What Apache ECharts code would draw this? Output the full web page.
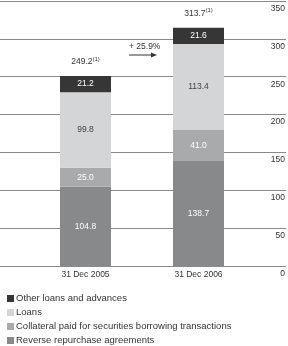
<!DOCTYPE html>
<html><head><meta charset="utf-8">
<script src="https://cdn.jsdelivr.net/npm/echarts@6/dist/echarts.min.js"></script>
<style>html,body{margin:0;padding:0;background:#fff}#c{width:288px;height:346px}</style>
</head><body><div id="c"></div>
<script>
const categories = ['31 Dec 2005', '31 Dec 2006'];
const reverseRepo = [104.8, 138.7];
const collateral = [25.0, 41.0];
const loans = [99.8, 113.4];
const otherLoans = [21.2, 21.6];
const totals = ['249.2', '313.7'];
const growthText = '+ 25.9%';
const yTicks = [0, 50, 100, 150, 200, 250, 300, 350];

const FONT = '"Liberation Sans Narrow", "Liberation Sans", sans-serif';
const TXT = '#333';
const chart = echarts.init(document.getElementById('c'), null, {renderer: 'canvas'});

function seg(name, data, color, labelColor) {
  return {
    name, type: 'bar', stack: 's', xAxisIndex: 1, yAxisIndex: 1, data,
    barWidth: 51, itemStyle: {color},
    label: {show: true, position: 'inside', color: labelColor, fontFamily: FONT, fontSize: 8.5,
      formatter: p => p.value.toFixed(1)}
  };
}

chart.setOption({
  animation: false,
  textStyle: {fontFamily: FONT},
  grid: [
    {left: 0, right: 0, top: 1, bottom: 80},
    {left: 29, right: 33, top: 1, bottom: 80}
  ],
  xAxis: [
    {gridIndex: 0, type: 'category', data: categories, show: false},
    {gridIndex: 1, type: 'category', data: categories,
      axisLine: {show: false}, axisTick: {show: false},
      axisLabel: {color: TXT, fontSize: 8.5, fontFamily: FONT, margin: 4}}
  ],
  yAxis: [
    {gridIndex: 0, type: 'value', min: yTicks[0], max: yTicks[yTicks.length - 1], interval: 50,
      position: 'right',
      axisLine: {show: false}, axisTick: {show: false},
      splitLine: {show: true, lineStyle: {color: '#8a8a8a', width: 1}},
      axisLabel: {inside: true, align: 'right', verticalAlign: 'top', margin: 1,
        color: TXT, fontSize: 8.5, fontFamily: FONT, padding: [3, 0, 0, 0]}},
    {gridIndex: 1, type: 'value', min: 0, max: 350, interval: 50, show: false,
      splitLine: {show: false}}
  ],
  legend: {
    orient: 'vertical', left: 2, top: 288, height: 60, itemWidth: 7, itemHeight: 7, itemGap: 3,
    icon: 'rect',
    data: ['Other loans and advances', 'Loans', 'Collateral paid for securities borrowing transactions', 'Reverse repurchase agreements'],
    textStyle: {color: TXT, fontSize: 9.5, fontFamily: FONT, lineHeight: 11, padding: [0, 0, 0, -3]}
  },
  graphic: [
    {type: 'text', left: 129, top: 42, style: {text: growthText, fill: TXT, font: '8.5px ' + FONT}},
    {type: 'line', shape: {x1: 129, y1: 55, x2: 152, y2: 55}, style: {stroke: '#333', lineWidth: 1}},
    {type: 'polygon', shape: {points: [[151, 52.5], [157, 55], [151, 57.5]]}, style: {fill: '#333'}}
  ],
  series: [
    seg('Reverse repurchase agreements', reverseRepo, '#88898b', '#fff'),
    seg('Collateral paid for securities borrowing transactions', collateral, '#a9aaac', '#fff'),
    seg('Loans', loans, '#d4d5d7', '#444'),
    seg('Other loans and advances', otherLoans, '#363636', '#fff'),
    {name: 'total', type: 'bar', stack: 's', xAxisIndex: 1, yAxisIndex: 1, barWidth: 51,
      data: [0, 0], itemStyle: {color: 'transparent'},
      label: {show: true, position: 'top', distance: 8,
        formatter: p => '{a|' + totals[p.dataIndex] + '}{s|(1)}',
        rich: {a: {color: TXT, fontSize: 8.5, fontFamily: FONT},
               s: {color: TXT, fontSize: 6, fontFamily: FONT, padding: [0, 0, 6, 0]}}}}
  ]
});
</script></body></html>
